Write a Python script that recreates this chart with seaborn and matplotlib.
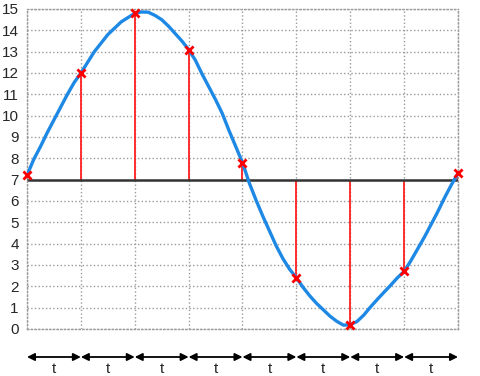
import matplotlib
matplotlib.use("Agg")
import matplotlib.pyplot as plt
import numpy as np
import pandas as pd
import seaborn as sns

# sampled points (one per interval t)
sample_t = [0, 1, 2, 3, 4, 5, 6, 7, 8]
sample_v = [7.2, 12.0, 14.8, 13.1, 7.8, 2.4, 0.2, 2.7, 7.3]

# curve every eighth of an interval
curve_v = [7.2, 7.95, 8.55, 9.2, 9.8, 10.4, 11.0, 11.55,
           12.0, 12.5, 13.0, 13.4, 13.8, 14.1, 14.4, 14.6,
           14.8, 14.86, 14.85, 14.7, 14.5, 14.2, 13.85, 13.5,
           13.1, 12.6, 11.95, 11.35, 10.75, 10.1, 9.3, 8.55,
           7.8, 6.85, 6.05, 5.3, 4.6, 3.9, 3.3, 2.8,
           2.4, 1.95, 1.55, 1.2, 0.9, 0.6, 0.36, 0.18,
           0.2, 0.35, 0.65, 1.03, 1.38, 1.72, 2.05, 2.4,
           2.7, 3.2, 3.75, 4.3, 4.9, 5.5, 6.15, 6.75,
           7.3]
curve_t = np.linspace(0, 8, len(curve_v))

baseline = 7
y_ticks = list(range(0, 16))
interval_label = "t"

sns.set_style("white")
plt.rcParams["font.family"] = ["Liberation Sans", "DejaVu Sans"]

fig = plt.figure(figsize=(4.81, 3.76), dpi=100)
ax = fig.add_axes([27 / 481, 47 / 376, 431 / 481, 320 / 376])

df_curve = pd.DataFrame({"t": curve_t, "v": curve_v})
df_pts = pd.DataFrame({"t": sample_t, "v": sample_v})

ax.vlines(sample_t, baseline, sample_v, color="#ff2020", lw=1.3, zorder=2)
ax.axhline(baseline, color="#333333", lw=1.8, zorder=2)
sns.lineplot(data=df_curve, x="t", y="v", ax=ax, color="#1e88e5", lw=2.4,
             zorder=3, solid_joinstyle="round")
sns.scatterplot(data=df_pts, x="t", y="v", ax=ax, marker="x", color="red",
                s=34, linewidth=2, zorder=4, clip_on=False)

ax.set_xlim(0, 8)
ax.set_ylim(0, 15)
ax.set_xticks(sample_t)
ax.set_yticks(y_ticks)
ax.set_xticklabels([])
ax.tick_params(axis="y", labelsize=11, length=0, pad=6)
ax.tick_params(axis="x", length=0)
ax.set_xlabel("")
ax.set_ylabel("")
ax.grid(True, linestyle=":", color="#9a9a9a", lw=1)
for s in ax.spines.values():
    s.set_linestyle(":")
    s.set_color("#9a9a9a")
    s.set_linewidth(1)

# interval arrows under the axis
for a, b in zip(sample_t[:-1], sample_t[1:]):
    ax.annotate("", xy=(b, -0.0875), xytext=(a, -0.0875),
                xycoords=("data", "axes fraction"),
                arrowprops=dict(arrowstyle="<|-|>", color="black", lw=1.3,
                                shrinkA=0, shrinkB=0, mutation_scale=11),
                annotation_clip=False)
    ax.annotate(interval_label, xy=((a + b) / 2, -0.125),
                xycoords=("data", "axes fraction"), ha="center", va="center",
                fontsize=11, annotation_clip=False)

fig.savefig("out.png", dpi=100)
